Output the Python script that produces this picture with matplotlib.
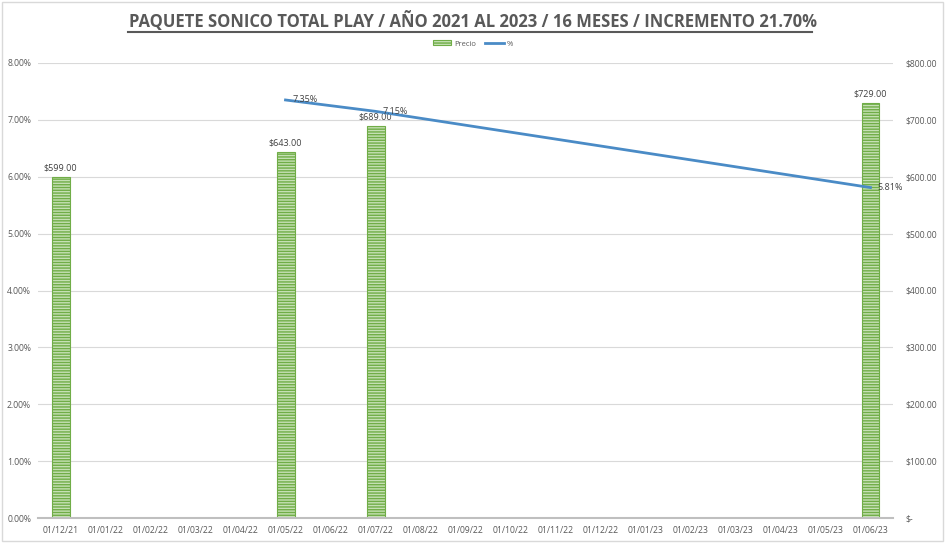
import matplotlib.pyplot as plt
import numpy as np
from matplotlib.patches import Rectangle

# months on the category axis
meses = ['01/12/21', '01/01/22', '01/02/22', '01/03/22', '01/04/22', '01/05/22',
         '01/06/22', '01/07/22', '01/08/22', '01/09/22', '01/10/22', '01/11/22',
         '01/12/22', '01/01/23', '01/02/23', '01/03/23', '01/04/23', '01/05/23',
         '01/06/23']

# price only where there was a change
precio_mes = ['01/12/21', '01/05/22', '01/07/22', '01/06/23']
precio = [599.00, 643.00, 689.00, 729.00]

# increment vs previous price
pct_mes = ['01/05/22', '01/07/22', '01/06/23']
pct = [7.35, 7.15, 5.81]

titulo = 'PAQUETE SONICO TOTAL PLAY / AÑO 2021 AL 2023 / 16 MESES / INCREMENTO 21.70%'

gris = '#595959'
verde = '#70AD47'
azul = '#4A8BC6'

plt.rcParams['font.family'] = ['Open Sans', 'DejaVu Sans']
plt.rcParams['hatch.color'] = verde
plt.rcParams['hatch.linewidth'] = 1.0

fig = plt.figure(figsize=(9.46, 5.43), dpi=100)
fig.patches.append(Rectangle((0.002, 0.004), 0.995, 0.992, transform=fig.transFigure,
                             fill=False, edgecolor='#D9D9D9', linewidth=1))

ax = fig.add_axes([38 / 946, 1 - 518 / 543, (893 - 38) / 946, (518 - 63) / 543])
ax2 = ax.twinx()

pos = {m: i for i, m in enumerate(meses)}
xb = [pos[m] for m in precio_mes]
xl = [pos[m] for m in pct_mes]

# bars on the right axis
ax2.bar(xb, precio, width=0.4, facecolor='#C5E0B4', edgecolor=verde,
        hatch='------', linewidth=0.8, label='Precio', zorder=2)
for x, v in zip(xb, precio):
    ax2.text(x, v + 8, f'${v:,.2f}', ha='center', va='bottom', fontsize=6.5, color='#404040')

# line on the left axis (drawn on top)
ax.plot(xl, pct, color=azul, linewidth=2, label='%', zorder=5)
for x, v in zip(xl, pct):
    ax.text(x + 0.15, v, f'{v:.2f}%', ha='left', va='center', fontsize=6.5, color='#404040',
            zorder=6)
ax.set_zorder(ax2.get_zorder() + 1)
ax.patch.set_visible(False)

ax.set_ylim(0, 8)
ax2.set_ylim(0, 800)
ax.set_xlim(-0.5, len(meses) - 0.5)
ax.set_yticks(np.arange(0, 9, 1))
ax.set_yticklabels([f'{v:.2f}%' for v in range(9)])
ax2.set_yticks(np.arange(0, 801, 100))
ax2.set_yticklabels(['$-'] + [f'${v:.2f}' for v in range(100, 801, 100)])
ax.set_xticks(range(len(meses)))
ax.set_xticklabels(meses)

ax2.grid(axis='y', color='#D9D9D9', linewidth=0.8, zorder=0)
ax2.set_axisbelow(True)
for a in (ax, ax2):
    for s in a.spines.values():
        s.set_visible(False)
    a.tick_params(length=0, labelsize=6.2, colors=gris)
ax.spines['bottom'].set_visible(True)
ax.spines['bottom'].set_color('#BFBFBF')
ax.spines['bottom'].set_linewidth(1.5)
ax.tick_params(axis='x', pad=6)
ax.tick_params(axis='y', pad=5)
ax2.tick_params(axis='y', pad=9)

# legend
h1, l1 = ax2.get_legend_handles_labels()
h2, l2 = ax.get_legend_handles_labels()
fig.legend(h1 + h2, l1 + l2, loc='center', bbox_to_anchor=(0.5, 1 - 44 / 543), ncol=2,
           frameon=False, fontsize=5.5, handlelength=2.4, handleheight=0.6, columnspacing=1.2,
           handletextpad=0.4, labelcolor=gris)

fig.text(0.5, 1 - 21 / 543, titulo, ha='center', va='center', fontsize=12,
         fontweight='bold', color=gris)
fig.add_artist(plt.Line2D([128 / 946, 812 / 946], [1 - 32 / 543, 1 - 32 / 543],
                          color=gris, linewidth=1.5))

fig.savefig('out.png', dpi=100)
